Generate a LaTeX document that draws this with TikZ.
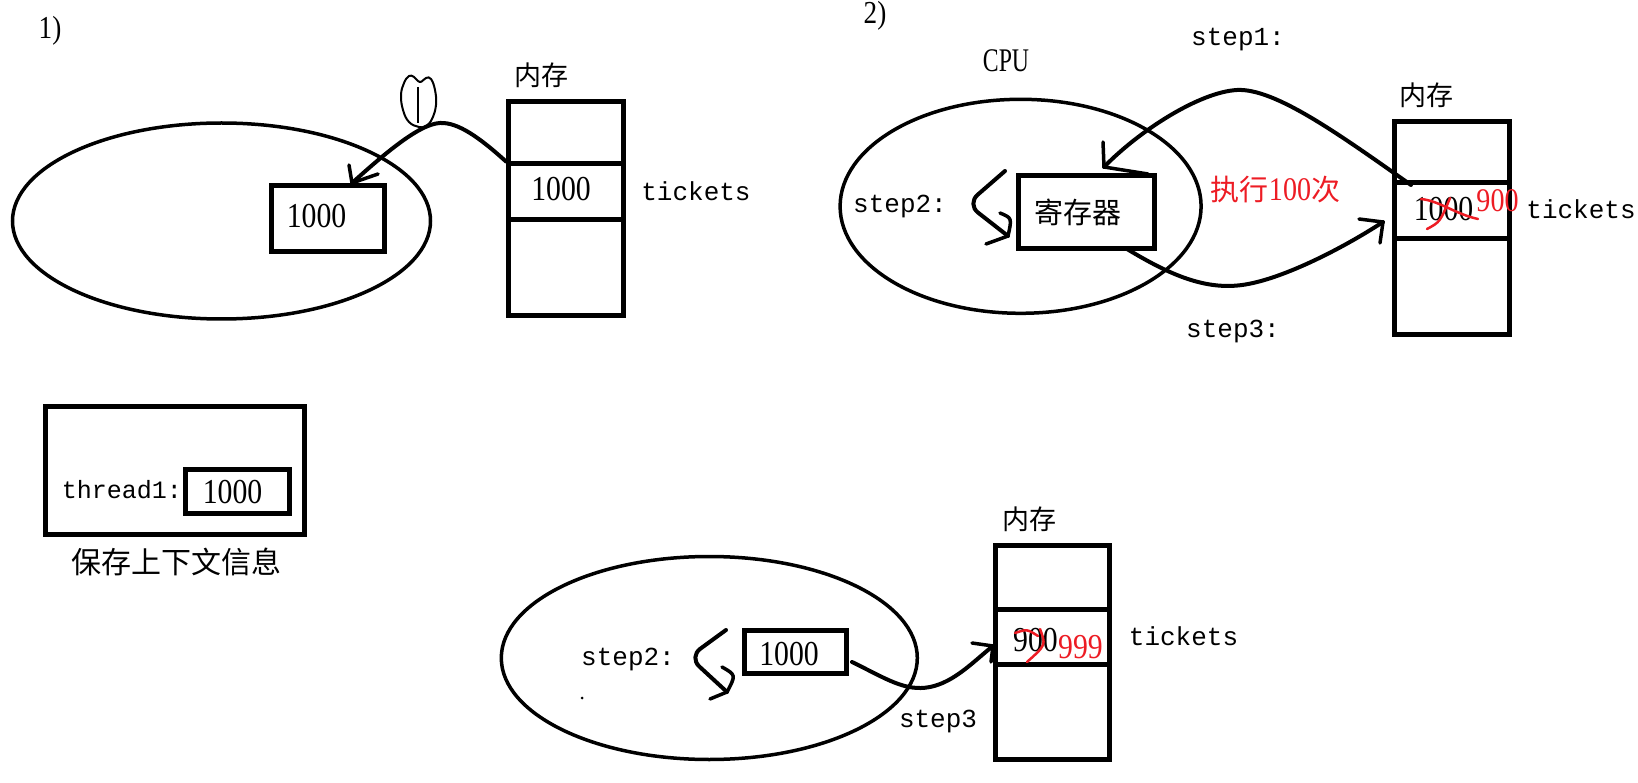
\documentclass[tikz,border=0pt]{standalone}
\usepackage{fontspec}
\setmainfont{Liberation Serif}
\newfontfamily\cjk{Noto Sans CJK SC}
\newfontfamily\mono{Liberation Mono}
\newfontfamily\narrow[FakeStretch=0.72]{Liberation Serif}
\newfontfamily\numf[FakeStretch=0.85]{Liberation Serif}
\usetikzlibrary{shapes.geometric}
\definecolor{pred}{RGB}{237,28,36}
\tikzset{
  ell/.style={draw, ellipse, line width=3.5pt, inner sep=0pt},
  bx/.style={draw, rectangle, line width=5pt, inner sep=0pt},
  cell/.style={bx, minimum width=115pt},
  txt/.style={inner sep=0pt, anchor=center},
  num/.style={txt, font=\numf\fontsize{35}{37}\selectfont},
  mlab/.style={txt, font=\mono\fontsize{26}{28}\selectfont},
  cjklab/.style={txt, font=\cjk\fontsize{27}{29}\selectfont},
  curve/.style={line width=4pt, line cap=round, line join=round},
  barb/.style={line width=3.5pt, line cap=round},
  redmark/.style={pred, line width=2.5pt, line cap=round},
}
\begin{document}
\begin{tikzpicture}[x=1pt, y=-1pt]
\useasboundingbox (0,0) rectangle (1638,783);

% ---------------- part 1 ----------------
\node[num, font=\numf\fontsize{32}{34}\selectfont] (lab1) at (50,31) {1)};
\node[ell, minimum width=418pt, minimum height=196pt] (ell1) at (221.5,221) {};
\node[bx, minimum width=113pt, minimum height=66pt] (box1) at (328,219) {};
\node[num] (b1t) at (316.5,216) {1000};
\node[cell, minimum height=62.7pt] (m1top) at (566,132.65) {};
\node[cell, minimum height=55.4pt] (m1mid) at (566,191.7) {};
\node[cell, minimum height=96.1pt] (m1bot) at (566,267.45) {};
\node[cjklab] (mt1) at (541,75) {内存};
\node[num] (v1) at (561,189) {1000};
\node[mlab] (tk1) at (696,191) {tickets};

\coordinate (t1) at (352,183);
\draw[curve] (m1mid.north west) .. controls (480,138) and (458,122) .. (440,123)
   .. controls (418,124) and (380,158) .. (t1);
\draw[barb] (t1) -- ++(-3,-18);
\draw[barb] (t1) -- ++(26,-9);

% hand-drawn circled mark
\draw[line width=2pt] plot[smooth cycle, tension=0.7] coordinates {
  (419,127) (409,122) (403,110) (401,95) (404,83) (409,76) (414,77)
  (420,82) (426,78) (431,79) (435,90) (436,105) (432,119) (426,126)};
\draw[line width=2pt] (418,87) -- (418,123);

% context box
\node[bx, minimum width=259pt, minimum height=128pt] (ctx) at (174.5,470) {};
\node[bx, minimum width=104pt, minimum height=44pt] (ctxin) at (237.9,491) {};
\node[mlab, font=\mono\fontsize{25}{27}\selectfont] (thr) at (122,490) {thread1:};
\node[num] (ctxv) at (232.5,491.7) {1000};
\node[cjklab, font=\cjk\fontsize{30}{32}\selectfont] (ctxl) at (176.5,562) {保存上下文信息};

% ---------------- part 2 ----------------
\node[num, font=\numf\fontsize{32}{34}\selectfont] (lab2) at (875,16) {2)};
\node[mlab] (st1) at (1238,40) {step1:};
\node[txt, font=\narrow\fontsize{33}{35}\selectfont] (cpu) at (1006,61) {CPU};
\node[ell, minimum width=361pt, minimum height=214pt] (ell2) at (1020.6,206.3) {};
\node[bx, minimum width=136pt, minimum height=73pt] (box2) at (1086.4,212) {};
\node[cjklab, font=\cjk\fontsize{29}{31}\selectfont] (reg) at (1078,212) {寄存器};
\node[mlab] (st2a) at (900,207) {step2:};
\node[txt, pred, font=\numf\fontsize{33}{35}\selectfont] (exec) at (1275.5,190) {{\cjk\fontsize{29}{31}\selectfont 执行}100{\cjk\fontsize{29}{31}\selectfont 次}};
\node[cell, minimum height=61.6pt] (m2top) at (1452,152) {};
\node[cell, minimum height=55.4pt] (m2mid) at (1452,210.5) {};
\node[cell, minimum height=96.1pt] (m2bot) at (1452,286.25) {};
\node[cjklab] (mt2) at (1426,95) {内存};
\node[num] (v2) at (1443.6,209) {1000};
\node[num, pred, font=\numf\fontsize{33}{35}\selectfont] (v2n) at (1497.5,201) {900};
\node[mlab] (tk2) at (1581,209) {tickets};
\node[mlab] (st3a) at (1233,332) {step3:};

% step2 loop
\coordinate (s2a) at (1005,171);
\coordinate (t2) at (1008,236);
\draw[curve, rounded corners=14pt] (s2a) -- (967,204) -- (t2);
\draw[barb] (1000,213) .. controls (1012,218) .. (t2);
\draw[barb] (t2) -- (986,244);

% step1 curve
\coordinate (s4) at (1411,185);
\coordinate (t4) at (1104,167);
\draw[curve] (s4) .. controls (1340,135) and (1275,88) .. (1237,90)
   .. controls (1200,92) and (1140,130) .. (t4);
\draw[barb] (t4) -- ++(-1,-25);
\draw[barb] (t4) -- ++(44,7);

% step3 curve
\coordinate (s5) at (1127,249);
\coordinate (t5) at (1383,222);
\draw[curve] (s5) .. controls (1170,275) and (1205,290) .. (1242,285)
   .. controls (1280,280) and (1340,250) .. (t5);
\draw[barb] (t5) -- (1359,219);
\draw[barb] (t5) -- (1380,243);

% red cross
\draw[redmark] (1421,199) .. controls (1440,201) and (1455,214) .. (1478,219);
\draw[redmark] (1427,229) .. controls (1440,222) .. (1450,198);

% ---------------- part 3 ----------------
\node[ell, minimum width=416pt, minimum height=203pt] (ell3) at (709.3,658) {};
\node[bx, minimum width=102pt, minimum height=43pt] (box3) at (795,652.4) {};
\node[num] (b3t) at (789,654) {1000};
\node[mlab] (st2b) at (628,659) {step2:};
\node[mlab] (st3b) at (938,721) {step3};
\node[cell, minimum width=114pt, minimum height=63.7pt] (m3top) at (1052.5,577.15) {};
\node[cell, minimum width=114pt, minimum height=55.4pt] (m3mid) at (1052.5,636.7) {};
\node[cell, minimum width=114pt, minimum height=95pt] (m3bot) at (1052.5,711.9) {};
\node[cjklab] (mt3) at (1029,519) {内存};
\node[num] (v3) at (1035.5,640) {900};
\node[num, pred, font=\numf\fontsize{35}{37}\selectfont] (v3n) at (1080.5,646.7) {999};
\node[mlab] (tk3) at (1183.5,636) {tickets};
\fill (582,698) circle (1.5pt);

% bottom step2 loop
\coordinate (s3) at (726,630);
\coordinate (t3) at (727,692);
\draw[curve, rounded corners=14pt] (s3) -- (689,657) -- (t3);
\draw[barb] (722,667) .. controls (736,675) .. (t3);
\draw[barb] (t3) -- (710,699);

% bottom step3 curve
\coordinate (s6) at (852,662);
\coordinate (t6) at (993,646);
\draw[curve] (s6) .. controls (885,678) and (905,692) .. (930,687)
   .. controls (955,682) and (975,660) .. (t6);
\draw[barb] (t6) -- (972,643);
\draw[barb] (t6) -- (991,662);

% red mark
\draw[redmark] (1015,633) .. controls (1027,629) .. (1038,636);
\draw[redmark] (1040,629) .. controls (1046,645) .. (1027,662);
\end{tikzpicture}
\end{document}
